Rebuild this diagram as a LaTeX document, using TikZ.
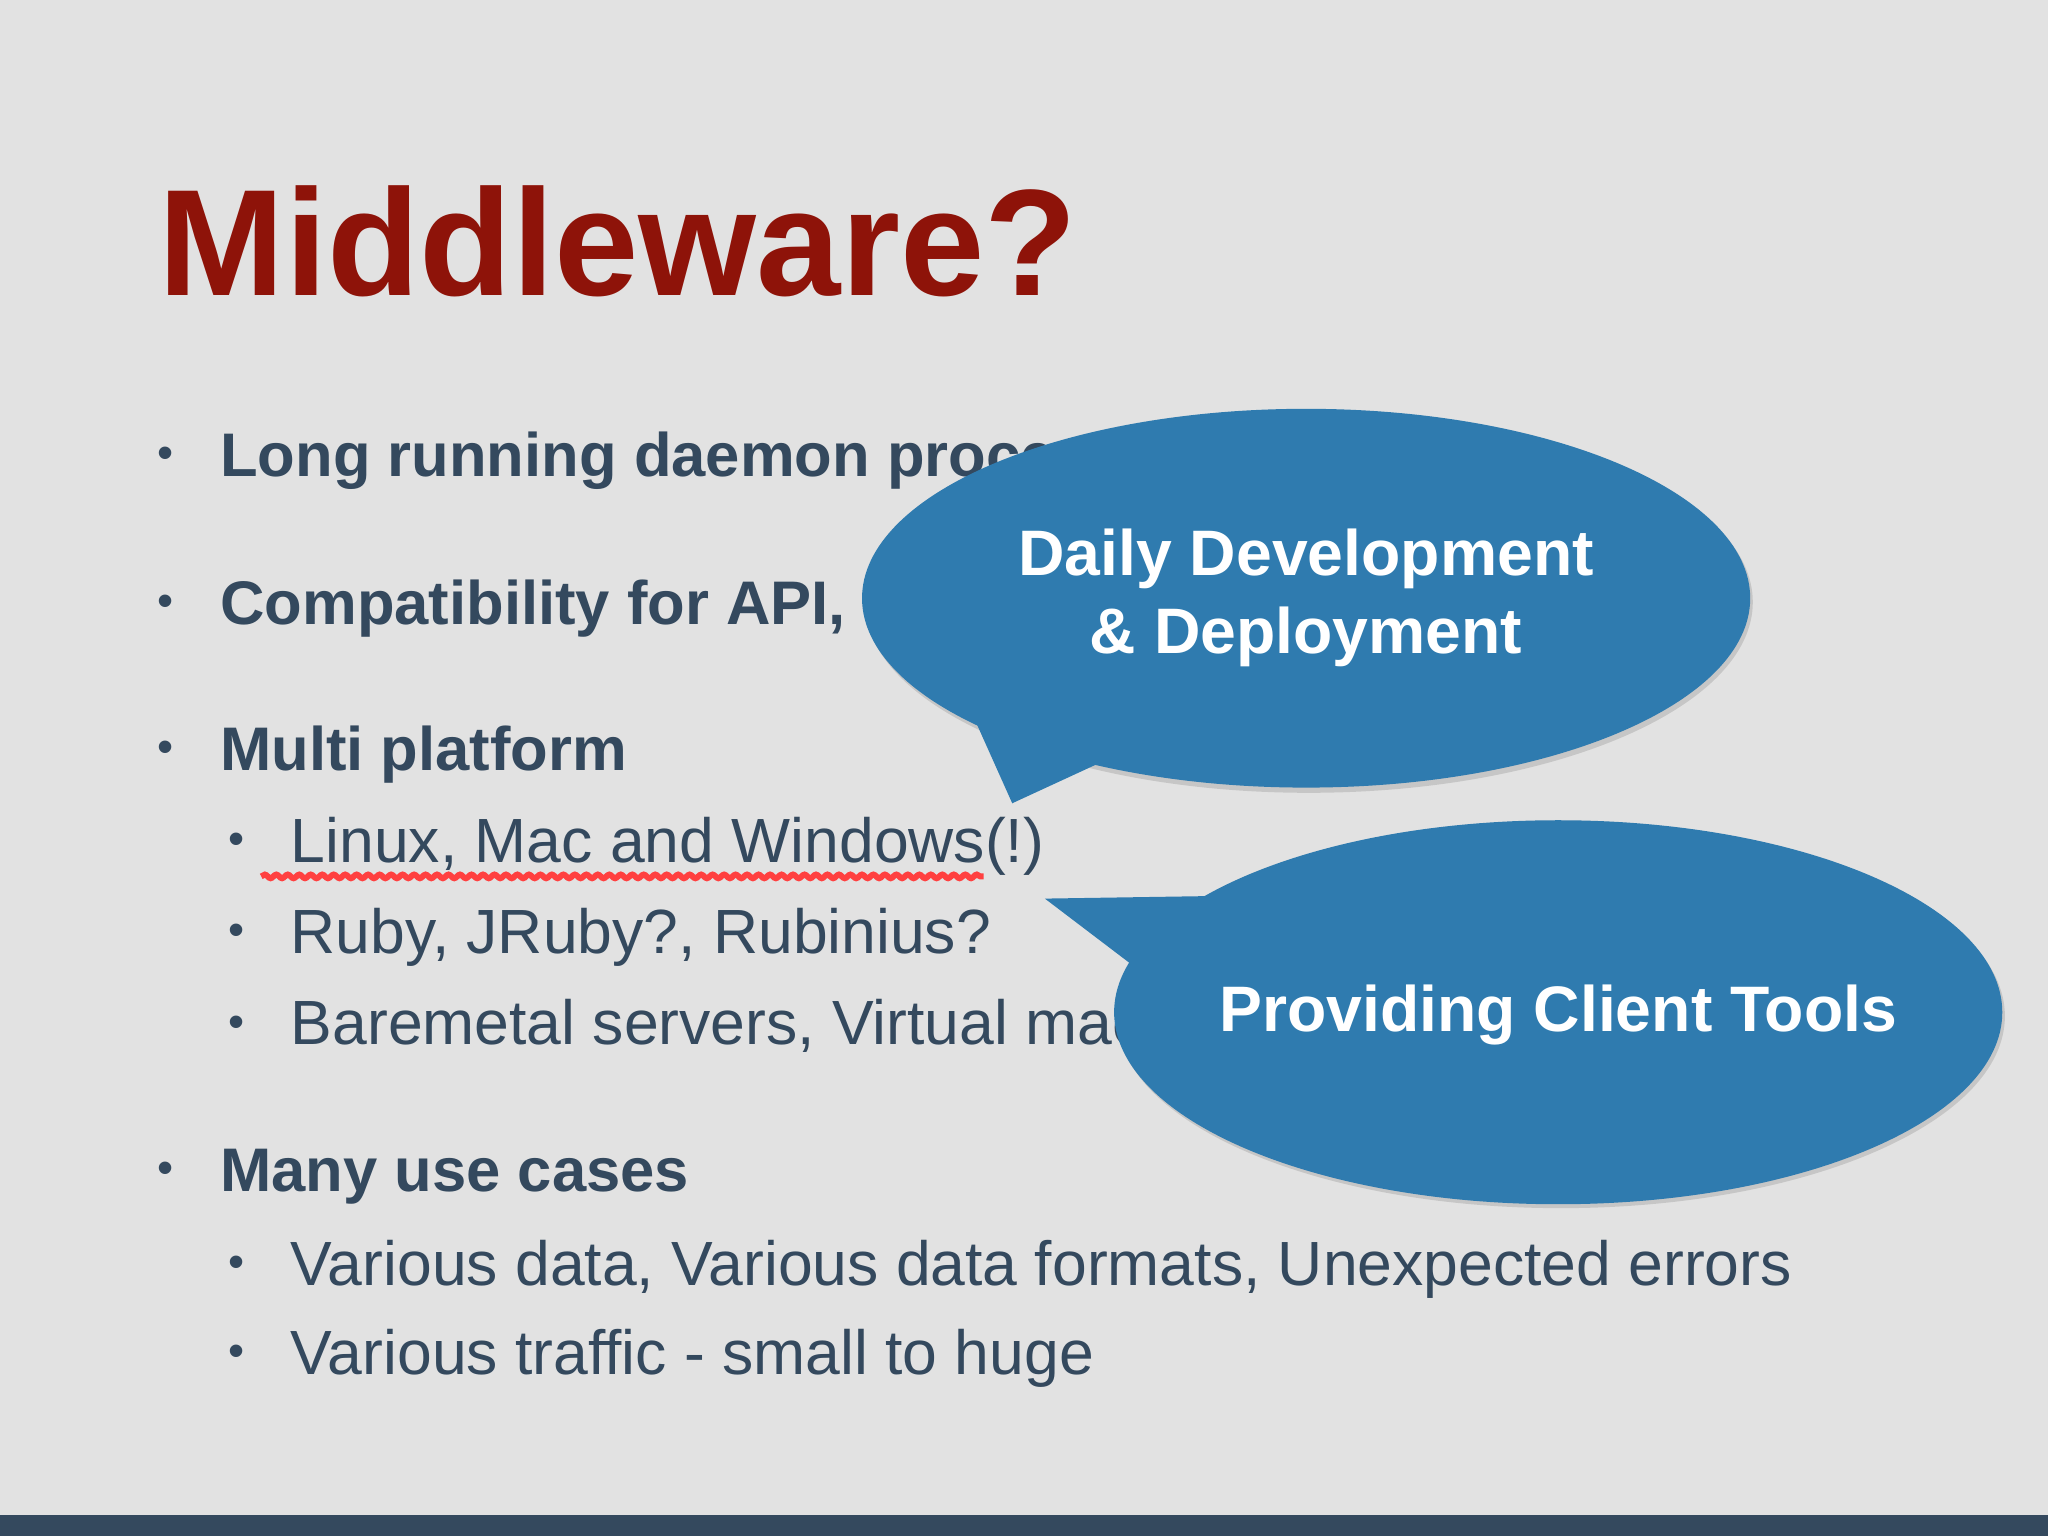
\documentclass[tikz,border=0pt]{standalone}
\usepackage{fontspec}
\setmainfont{Liberation Sans}
\usetikzlibrary{decorations.pathmorphing}
\definecolor{bg}{HTML}{E2E2E2}
\definecolor{ttl}{HTML}{8E1309}
\definecolor{txt}{HTML}{34495E}
\definecolor{bub}{HTML}{2F7BAF}
\tikzset{
 bul/.style={anchor=base west,text=txt,font=\fontsize{13.4pt}{18pt}\selectfont\bfseries,inner sep=0},
 sub/.style={anchor=base west,text=txt,font=\fontsize{13.6pt}{18pt}\selectfont,inner sep=0},
 dot/.style={anchor=base,text=txt,font=\fontsize{10pt}{12pt}\selectfont,inner sep=0},
 btxt/.style={text=white,font=\fontsize{14pt}{17pt}\selectfont\bfseries,align=center}
}
\begin{document}
\begin{tikzpicture}[x=0.01cm,y=-0.01cm]
\fill[bg] (0,0) rectangle (1568,1176);
\useasboundingbox (0,0) rectangle (1568,1176);
\fill[txt] (0,1160) rectangle (1568,1176);
\node[anchor=base west,text=ttl,font=\fontsize{33pt}{40pt}\selectfont\bfseries,inner sep=0] (title) at (121,226) {Middleware?};
\foreach \y/\t [count=\i] in {365/Long running daemon process,478/{Compatibility for API, behavior},590/Multi platform / environment support,912/Many use cases}{
 \node[dot] (d\i) at (127,\y-6) {•};
 \node[bul] (b\i) at (168,\y) {\t};
}
\foreach \y/\t [count=\i] in {660/{Linux, Mac and Windows(!)},730/{Ruby, JRuby?, Rubinius?},800/{Baremetal servers, Virtual machines},984/{Various data, Various data formats, Unexpected errors},1052/{Various traffic - small to huge}}{
 \node[dot] (e\i) at (181,\y-6) {•};
 \node[sub] (s\i) at (222,\y) {\t};
}
\coordinate (w1) at (200,671); \coordinate (w2) at (753,671);
\draw[red!75!white,line width=1.3pt,decorate,decoration={snake,amplitude=0.4pt,segment length=2.5pt}] (w1) -- (w2);
% bubble 1
\fill[black,opacity=0.12] (1002,461) ellipse [x radius=340,y radius=146];
\fill[bub] (1000,458) ellipse [x radius=340,y radius=145];
\fill[bub] (745,548) -- (775,615) -- (840,585) -- cycle;
\node[btxt] (t1) at (1000,458) {Daily Development\\\& Deployment};
% bubble 2
\fill[black,opacity=0.12] (1195,778) ellipse [x radius=340,y radius=147];
\fill[bub] (1193,775) ellipse [x radius=340,y radius=147];
\fill[bub] (800,688) -- (930,686) -- (875,745) -- cycle;
\node[btxt] (t2) at (1193,777) {Providing Client Tools};
\end{tikzpicture}
\end{document}
